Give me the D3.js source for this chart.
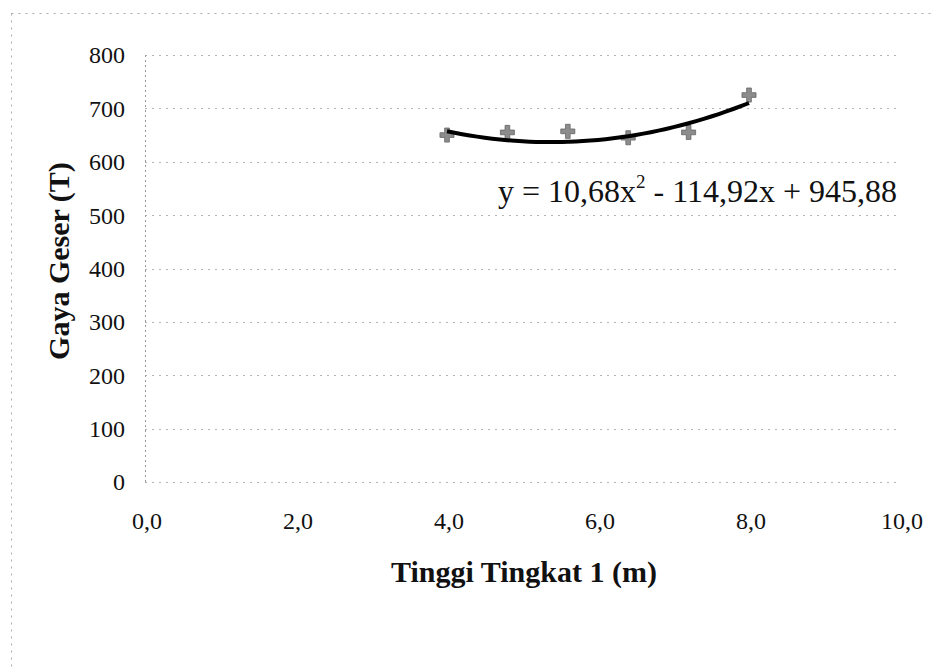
<!DOCTYPE html>
<html>
<head>
<meta charset="utf-8">
<script src="https://cdn.jsdelivr.net/npm/d3@7"></script>
<style>
  body { margin: 0; background: #fff; }
  text { font-family: "Liberation Serif", "Times New Roman", serif; fill: #111; }
</style>
</head>
<body>
<div id="chart"></div>
<script>
// data
let tinggi = [4.0, 4.8, 5.6, 6.4, 7.2, 8.0];
let geser  = [650, 655, 657, 645, 655, 725];
let coef   = [10.68, -114.92, 945.88];   // trendline a*x^2 + b*x + c
let xTicks = [0, 2, 4, 6, 8, 10];
let yTicks = [0, 100, 200, 300, 400, 500, 600, 700, 800];

let w = 933, h = 669;
let svg = d3.select('#chart').append('svg').attr('width', w).attr('height', h);

let x = d3.scaleLinear().domain([0, 10]).range([145, 900]);
let y = d3.scaleLinear().domain([0, 800]).range([482, 55]);

// outer chart border (faint dashed, only top/left show)
svg.append('rect').attr('x', 11.5).attr('y', 13.5).attr('width', 960).attr('height', 700)
    .attr('fill', 'none').attr('stroke', '#aaa').attr('stroke-dasharray', '2,5').attr('stroke-width', 1);

// gridlines
svg.append('g').selectAll('line').data(yTicks).join('line')
    .attr('x1', x(0)).attr('x2', x(10))
    .attr('y1', d => Math.round(y(d)) + 0.5).attr('y2', d => Math.round(y(d)) + 0.5)
    .attr('stroke', '#b5b5b5').attr('stroke-dasharray', '2,5').attr('stroke-width', 1);

// left axis line
svg.append('line').attr('x1', x(0) + 0.5).attr('x2', x(0) + 0.5).attr('y1', y(800)).attr('y2', y(0))
    .attr('stroke', '#999').attr('stroke-dasharray', '2,3');

// y tick labels
svg.append('g').selectAll('text').data(yTicks).join('text')
    .attr('x', x(0) - 20).attr('y', d => y(d)).attr('dy', '0.35em')
    .attr('text-anchor', 'end').attr('font-size', 24)
    .text(d => d);

// x tick labels
let fmt = d => d3.format('.1f')(d).replace('.', ',');
svg.append('g').selectAll('text').data(xTicks).join('text')
    .attr('x', d => x(d) + 2).attr('y', 529)
    .attr('text-anchor', 'middle').attr('font-size', 24)
    .text(d => fmt(d));

// axis titles
svg.append('text').attr('x', 524).attr('y', 582).attr('text-anchor', 'middle')
    .attr('font-size', 30).attr('font-weight', 'bold').text('Tinggi Tingkat 1 (m)');
svg.append('text').attr('transform', 'translate(69,261) rotate(-90)').attr('text-anchor', 'middle')
    .attr('font-size', 30).attr('font-weight', 'bold').text('Gaya Geser (T)');

// markers
let pts = tinggi.map((t, i) => ({t: t, v: geser[i]}));
svg.append('g').selectAll('path').data(pts).join('path')
    .attr('transform', d => 'translate(' + [x(d.t), y(d.v)].join(',') + ')')
    .attr('d', d3.symbol().type(d3.symbolCross).size(110))
    .attr('fill', '#8c8c8c').attr('stroke', '#666').attr('stroke-width', 0.8);

// trendline
let poly = t => coef[0] * t * t + coef[1] * t + coef[2];
let tr = d3.range(0, 41).map(i => tinggi[0] + (tinggi[tinggi.length - 1] - tinggi[0]) * i / 40);
svg.append('path').datum(tr)
    .attr('d', d3.line().x(t => x(t)).y(t => y(poly(t))).curve(d3.curveBasis))
    .attr('fill', 'none').attr('stroke', '#000').attr('stroke-width', 4);

// equation
let eq = svg.append('text').attr('x', 498).attr('y', 202).attr('font-size', 32);
eq.append('tspan').text('y = 10,68x');
eq.append('tspan').attr('dy', -14).attr('font-size', 19).text('2');
eq.append('tspan').attr('dy', 14).text(' - 114,92x + 945,88');
</script>
</body>
</html>
